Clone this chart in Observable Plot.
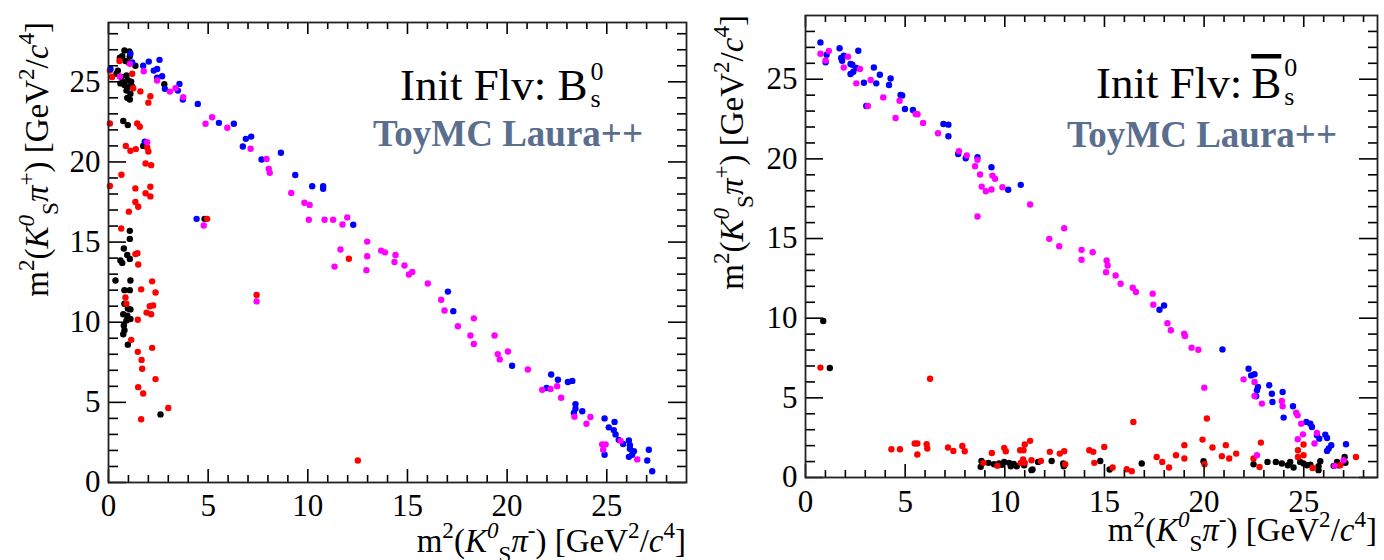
<!DOCTYPE html>
<html>
<head>
<meta charset="utf-8">
<script src="https://cdn.jsdelivr.net/npm/d3@7"></script>
<script src="https://cdn.jsdelivr.net/npm/@observablehq/plot@0.6"></script>
<style>
  html, body { margin: 0; padding: 0; background: #fff; }
  #wrap { position: relative; width: 1384px; height: 560px; overflow: hidden; }
  .panel { position: absolute; top: 0; }
</style>
</head>
<body>
<div id="wrap">
  <div id="p1" class="panel" style="left:0px"></div>
  <div id="p2" class="panel" style="left:692px"></div>
</div>
<script>
// ---------- DATA ----------
// Left panel: initial flavour B_s^0
const leftBlack = [[0.80,26.95],[1.05,26.9],[0.69,26.6],[1.07,26.6],[0.57,26.5],[0.85,26.3],[1.02,26.2],[0.47,25.7],[0.40,25.5],[0.64,25.3],[0.90,25.4],[0.74,25.0],[0.97,25.1],[1.14,25.0],[0.80,24.8],[1.02,24.7],[0.60,24.9],[1.19,24.7],[0.90,24.45],[1.10,24.25],[0.94,24.0],[1.07,23.9],[1.35,26.0],[2.80,24.85],[0.74,22.55],[0.97,22.3],[1.74,21.0],[4.82,16.45],[1.07,15.7],[1.07,15.2],[0.77,14.6],[0.94,14.2],[1.07,13.95],[0.60,13.85],[0.69,13.7],[0.35,12.6],[1.10,12.6],[0.8,12.0],[1.07,12.0],[0.8,11.15],[0.97,10.85],[1.1,10.8],[0.74,10.5],[0.94,10.4],[1.1,10.2],[0.9,10.1],[0.77,9.8],[0.8,9.5],[0.74,9.25],[0.97,8.6],[2.61,4.25]];
const leftRed = [[0.07,25.7],[0.18,25.3],[0.55,26.3],[1.19,25.5],[1.24,24.6],[1.6,24.4],[2.1,24.1],[2.0,23.7],[0.07,22.4],[1.44,22.4],[1.57,22.2],[0.87,21.0],[1.10,20.7],[1.37,20.8],[1.94,20.9],[2.0,20.65],[1.86,19.9],[2.14,19.8],[0.65,19.2],[0.07,18.5],[1.35,18.35],[2.1,18.45],[1.86,18.05],[2.1,17.85],[1.35,17.5],[1.49,17.2],[1.02,16.9],[0.64,15.85],[1.35,14.25],[1.45,14.3],[1.49,13.6],[4.95,16.45],[2.19,12.55],[1.64,12.05],[2.36,11.85],[0.85,11.55],[0.9,11.15],[2.07,11.0],[2.24,11.05],[1.91,10.6],[2.14,10.5],[1.47,10.15],[1.14,8.9],[1.47,8.15],[2.19,8.4],[1.66,7.65],[1.69,7.1],[2.36,6.45],[1.49,5.95],[1.74,5.55],[3.0,4.65],[1.64,3.95],[7.43,11.7],[12.06,13.96],[12.51,1.37]];
const leftBlue = [[0.1,25.8],[1.1,26.75],[1.19,26.2],[1.74,26.0],[2.02,26.26],[2.27,25.7],[2.44,25.8],[2.56,26.37],[2.69,25.35],[2.44,25.25],[2.83,24.56],[3.48,24.45],[3.56,24.87],[3.73,23.89],[4.48,23.62],[5.54,22.44],[6.29,22.38],[6.74,20.96],[6.89,21.44],[7.16,21.58],[7.68,20.15],[8.65,20.57],[9.37,19.19],[10.22,18.48],[10.77,18.48],[10.77,18.32],[4.42,16.45],[1.82,21.27],[12.28,16.08],[17.03,11.91],[17.3,10.69],[20.25,7.28],[22.21,6.74],[22.55,6.41],[21.98,5.9],[23.05,6.27],[23.27,6.34],[23.43,4.89],[23.43,4.6],[23.35,4.34],[23.77,4.45],[24.89,4.0],[25.39,3.78],[25.1,3.44],[25.35,3.27],[25.44,3.0],[25.6,2.66],[25.82,2.4],[26.11,2.62],[26.16,2.33],[26.16,2.11],[26.36,1.95],[26.11,1.6],[26.27,1.73],[24.89,1.73],[27.11,2.04],[27.03,1.37],[27.28,0.7]];
const leftMagenta = [[0.57,25.33],[1.07,26.12],[1.77,25.66],[2.44,25.08],[3.08,24.39],[3.36,24.6],[3.75,24.04],[4.87,22.38],[5.2,22.79],[5.96,22.13],[7.13,20.82],[7.93,20.19],[8.04,19.57],[8.09,19.32],[9.17,18.07],[9.83,17.45],[10.09,17.32],[10.05,16.39],[10.84,16.39],[11.27,16.39],[11.74,16.1],[11.98,16.54],[11.64,14.54],[11.34,13.47],[4.78,16.03],[1.94,21.23],[7.43,11.3],[12.98,15.03],[12.98,14.12],[12.94,13.25],[13.68,14.47],[13.87,14.36],[14.4,14.2],[14.35,13.76],[14.85,13.54],[15.07,12.98],[15.24,13.14],[16.02,12.42],[16.69,11.4],[16.86,10.73],[17.53,9.75],[18.16,9.17],[18.33,8.64],[18.33,10.24],[19.37,9.17],[19.53,8.01],[19.63,7.68],[20.04,8.17],[21.04,7.05],[21.76,5.78],[22.18,5.83],[22.51,6.01],[22.71,5.29],[23.38,4.11],[23.98,3.67],[24.18,4.09],[24.77,2.38],[24.94,2.38],[24.82,2.04],[25.69,2.6],[26.53,1.44]];

// Right panel: initial flavour anti-B_s^0
const rightBlack = [[0.89,9.82],[1.22,6.87],[8.79,0.67],[8.83,1.04],[9.18,0.92],[9.46,0.83],[9.71,0.88],[9.97,0.98],[10.22,0.92],[10.3,0.71],[10.6,0.71],[10.97,0.77],[11.34,0.46],[11.39,0.5],[11.67,0.98],[9.85,0.8],[10.45,0.85],[12.35,1.04],[12.93,0.88],[12.96,0.7],[14.79,1.04],[15.26,0.5],[16.87,0.88],[19.97,1.02],[22.48,0.83],[23.18,0.98],[23.6,0.98],[23.9,0.88],[24.2,0.77],[24.32,0.98],[24.49,0.63],[24.82,0.98],[24.99,0.88],[25.16,0.77],[25.33,0.81],[25.83,1.02],[25.74,0.71],[25.74,0.46],[26.5,0.73],[26.67,0.98],[27.05,1.29],[27.09,0.92],[26.75,0.77]];
const rightRed = [[0.75,6.9],[6.25,6.2],[4.31,1.77],[4.74,1.77],[5.48,2.13],[5.61,2.13],[5.61,1.44],[6.08,2.09],[6.11,1.82],[7.15,1.88],[7.42,1.67],[7.87,1.98],[7.99,1.65],[8.93,0.92],[9.35,1.54],[9.63,0.73],[9.97,1.86],[10.05,1.65],[10.77,1.71],[10.94,1.71],[11.0,2.07],[11.27,2.3],[10.92,1.13],[11.0,0.92],[10.8,0.92],[11.34,1.08],[11.81,1.04],[12.26,1.61],[12.76,1.5],[12.98,1.65],[13.03,0.83],[14.24,1.71],[14.44,1.61],[14.99,1.92],[14.49,0.92],[15.41,0.63],[16.45,3.49],[20.14,3.7],[19.92,2.38],[19.01,2.03],[20.42,1.88],[21.09,2.03],[20.89,1.34],[21.26,1.19],[21.61,1.5],[18.59,1.4],[19.01,1.19],[17.62,1.29],[17.9,0.98],[18.24,0.63],[20.02,0.83],[16.12,0.52],[16.37,0.4],[22.48,1.19],[22.85,2.19],[22.78,0.66],[24.71,1.71],[24.99,2.07],[24.99,1.4],[24.71,1.29],[25.44,0.6],[26.83,0.77],[27.62,1.29]];
const rightBlue = [[0.75,27.31],[1.06,26.54],[1.01,26.06],[1.71,26.94],[1.79,26.33],[1.92,26.48],[1.84,26.16],[2.26,25.96],[2.35,25.91],[2.65,26.79],[2.55,25.71],[2.26,25.33],[2.4,25.47],[2.93,24.78],[3.43,25.74],[3.55,24.74],[3.73,25.28],[4.19,24.64],[4.27,25.05],[3.05,23.32],[4.77,24.01],[4.85,23.98],[4.99,23.13],[5.39,23.07],[6.92,22.19],[7.17,22.15],[7.17,21.42],[7.66,20.31],[8.04,20.04],[8.63,20.1],[9.33,19.47],[10.17,18.06],[10.8,18.37],[17.99,10.8],[17.76,10.53],[20.92,8.04],[22.23,6.83],[22.36,6.41],[22.53,6.48],[22.7,5.68],[22.65,5.47],[22.61,5.1],[23.27,5.79],[23.4,5.26],[23.43,4.74],[23.94,5.37],[23.99,3.76],[24.46,4.47],[25.13,3.49],[25.33,3.38],[25.41,3.17],[25.66,2.65],[25.78,2.44],[26.08,2.69],[26.17,2.48],[26.38,2.03],[26.25,1.82],[26.17,1.67],[27.12,2.09]];
const rightMagenta = [[0.75,26.6],[1.01,26.18],[1.17,26.77],[1.92,25.74],[2.13,26.41],[2.55,24.74],[2.73,25.64],[3.13,23.32],[3.27,24.95],[3.9,23.86],[4.52,22.57],[4.72,23.65],[5.53,22.82],[5.62,22.8],[5.9,22.26],[6.65,21.61],[7.7,20.48],[8.09,20.21],[8.51,19.54],[8.63,19.94],[8.76,19.02],[8.84,18.26],[9.05,17.97],[9.33,18.08],[9.38,18.95],[9.51,18.75],[9.88,18.22],[8.63,16.38],[11.27,17.14],[12.98,15.65],[12.23,14.98],[12.73,14.52],[13.85,14.29],[14.41,14.14],[13.85,13.67],[15.11,13.62],[15.16,13.31],[15.08,12.89],[15.56,12.68],[15.81,12.16],[16.42,11.91],[16.58,11.64],[17.42,11.54],[17.45,10.85],[18.16,9.69],[18.33,9.24],[19.0,9.03],[19.04,8.88],[19.37,8.15],[19.71,8.02],[20.01,5.64],[21.98,6.16],[22.53,6.0],[22.53,5.12],[22.9,4.64],[23.9,4.8],[23.94,4.47],[24.62,4.07],[24.69,3.9],[24.87,3.38],[24.96,2.71],[24.7,2.4],[25.54,2.13],[25.66,2.8],[22.65,1.4],[26.55,0.73],[27.0,1.08]];

// Tick values
const majorTicks = [0, 5, 10, 15, 20, 25];
const minorTicks = [1,2,3,4,6,7,8,9,11,12,13,14,16,17,18,19,21,22,23,24,26,27,28];

// ---------- RENDERING ----------
const SERIF = "'Liberation Serif', 'Times New Roman', serif";
const COLORS = {black: "#000000", red: "#ff0000", blue: "#0000ff", magenta: "#ff00ff"};

function richText(svg, parts, {x, y, anchor = "start", rotate = 0, size, fill = "#000", weight = "normal"}) {
  const t = svg.append("text")
    .attr("transform", `translate(${x},${y}) rotate(${rotate})`)
    .attr("text-anchor", anchor)
    .attr("font-family", SERIF)
    .attr("font-size", size)
    .attr("font-weight", weight)
    .attr("fill", fill);
  let cur = 0;
  for (const p of parts) {
    const off = p.off || 0;
    const ts = t.append("tspan").text(p.t).attr("dy", off - cur);
    if (p.dx) ts.attr("dx", p.dx);
    if (p.fs) ts.attr("font-size", p.fs);
    if (p.i) ts.attr("font-style", "italic");
    if (p.over) ts.attr("text-decoration", "overline");
    cur = off;
  }
  return t;
}

function axisTitleParts(charge, S) {
  const s = S * 0.7, up = -0.42 * S, dn = 0.3 * S;
  return [
    {t: "m"}, {t: "2", fs: s, off: up}, {t: "("}, {t: "K", i: true},
    {t: "0", i: true, fs: s, off: up}, {t: "S", fs: s, off: dn},
    {t: "\u03C0", i: true}, {t: charge, fs: s, off: up},
    {t: ") [GeV"}, {t: "2", fs: s, off: up}, {t: "/"}, {t: "c", i: true},
    {t: "4", fs: s, off: up}, {t: "]"}
  ];
}

function panel(el, cfg) {
  const W = 692, H = 560;
  const innerW = W - cfg.ml - cfg.mr, innerH = H - cfg.mt - cfg.mb;
  const dots = (arr, c) => Plot.dot(arr, {x: d => d[0], y: d => d[1], r: 3.2, fill: COLORS[c], stroke: "none"});
  const chart = Plot.plot({
    width: W, height: H,
    marginLeft: cfg.ml, marginRight: cfg.mr, marginTop: cfg.mt, marginBottom: cfg.mb,
    x: {domain: cfg.xDomain},
    y: {domain: cfg.yDomain},
    style: {fontFamily: SERIF, fontSize: "31px", background: "white", color: "black", overflow: "visible"},
    marks: [
      dots(cfg.black, "black"),
      dots(cfg.red, "red"),
      dots(cfg.blue, "blue"),
      dots(cfg.magenta, "magenta"),
      // inward ticks: bottom & top
      Plot.tickX(majorTicks, {x: d => d, insetTop: innerH - 13, strokeWidth: 1.6}),
      Plot.tickX(minorTicks, {x: d => d, insetTop: innerH - 7, strokeWidth: 1.6}),
      Plot.tickX(majorTicks, {x: d => d, insetBottom: innerH - 12, strokeWidth: 1.6}),
      Plot.tickX(minorTicks, {x: d => d, insetBottom: innerH - 7, strokeWidth: 1.6}),
      // inward ticks: left & right
      Plot.tickY(majorTicks, {y: d => d, insetRight: innerW - 18, strokeWidth: 1.6}),
      Plot.tickY(minorTicks, {y: d => d, insetRight: innerW - 10, strokeWidth: 1.6}),
      Plot.tickY(majorTicks, {y: d => d, insetLeft: innerW - 18, strokeWidth: 1.6}),
      Plot.tickY(minorTicks, {y: d => d, insetLeft: innerW - 9, strokeWidth: 1.6}),
      Plot.axisX(majorTicks, {anchor: "bottom", tickSize: 0, tickPadding: cfg.xPad, fontSize: 31, label: null}),
      Plot.axisY(majorTicks, {anchor: "left", tickSize: 0, tickPadding: 8, fontSize: 31, label: null}),
      Plot.frame({stroke: "#222", strokeWidth: 1.8})
    ]
  });
  el.appendChild(chart);
  const svg = d3.select(chart);
  // axis titles
  richText(svg, axisTitleParts("+", 33), {x: cfg.yTitleX, y: cfg.mt, rotate: -90, anchor: "end", size: 33});
  richText(svg, axisTitleParts("-", 33), {x: W - cfg.mr, y: cfg.xTitleY, anchor: "end", size: 33});
  // annotations
  richText(svg, cfg.flvParts, {x: cfg.flvX, y: cfg.flvY, size: 45});
  richText(svg, [{t: "ToyMC Laura++"}], {x: cfg.toyX, y: cfg.toyY, size: 37, weight: "bold", fill: "#5a6e8e"});
}

panel(document.getElementById("p1"), {
  ml: 108, mr: 6, mt: 22, mb: 78,
  xDomain: [0, 29], yDomain: [0, 28.7], xPad: 11,
  black: leftBlack, red: leftRed, blue: leftBlue, magenta: leftMagenta,
  yTitleX: 48, xTitleY: 552,
  flvX: 400, flvY: 100,
  flvParts: [{t: "Init Flv: B"}, {t: "0", fs: 26, off: -20, dx: 3}, {t: "s", fs: 26, off: 7, dx: -13}],
  toyX: 373, toyY: 146
});

panel(document.getElementById("p2"), {
  ml: 113, mr: 7, mt: 15, mb: 83,
  xDomain: [0, 28.7], yDomain: [0, 29], xPad: 12,
  black: rightBlack, red: rightRed, blue: rightBlue, magenta: rightMagenta,
  yTitleX: 51, xTitleY: 541,
  flvX: 404, flvY: 98,
  flvParts: [{t: "Init Flv:"}, {t: "B", over: true, dx: 9}, {t: "0", fs: 26, off: -22, dx: 3}, {t: "s", fs: 26, off: 7, dx: -13}],
  toyX: 375, toyY: 147
});
</script>
</body>
</html>
